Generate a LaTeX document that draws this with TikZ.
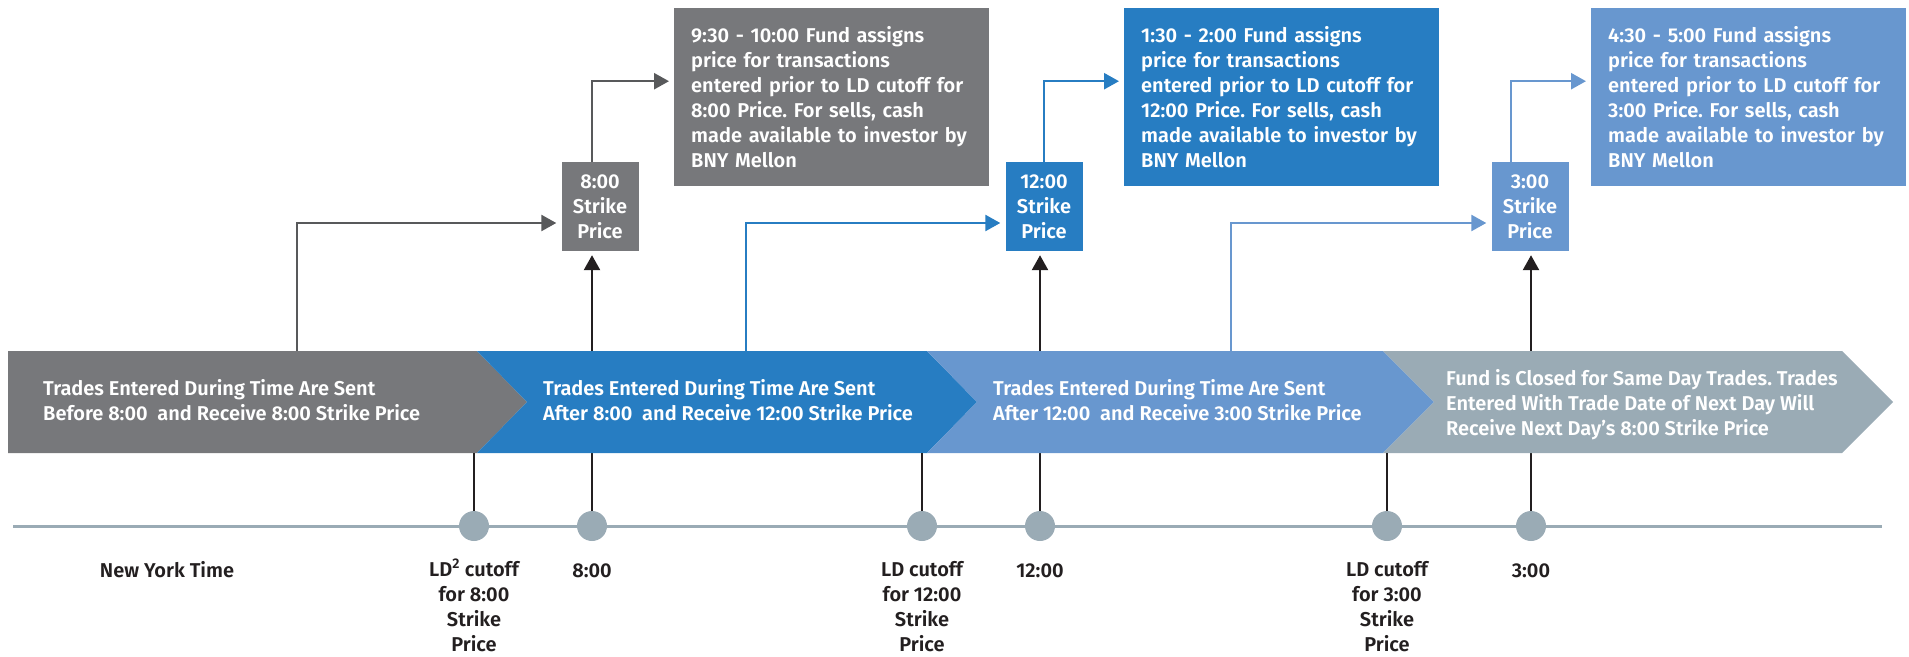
\documentclass[tikz,border=0pt]{standalone}
\usepackage{fontspec}
\setmainfont{Fira Sans}[UprightFont={* SemiBold}]
\usetikzlibrary{arrows.meta}
\definecolor{chgray}{HTML}{77787B}
\definecolor{chblue}{HTML}{277DC2}
\definecolor{chlight}{HTML}{6897CF}
\definecolor{chslate}{HTML}{9AABB5}
\definecolor{linegray}{HTML}{58595B}
\definecolor{inkblack}{HTML}{231F20}
\newcommand{\dfont}{\fontsize{20}{25}\selectfont\frenchspacing}
\tikzset{
  strikebox/.style={minimum width=77, minimum height=89, inner sep=0, text=white, align=center, font=\dfont},
  infobox/.style={anchor=north west, text width=281, minimum height=178, inner xsep=17, inner ysep=0, text=white, align=left, font=\dfont},
  bandtext/.style={anchor=west, inner sep=0, text=white, align=left, font=\dfont},
  tlabel/.style={anchor=base, inner sep=0, text=inkblack, align=center, font=\dfont},
  dot/.style={circle, fill=chslate, minimum size=30, inner sep=0},
  stem/.style={line width=2.5, inkblack},
  riser/.style={line width=2.5, ->, shorten >=5pt},
}
\begin{document}
\begin{tikzpicture}[x=1pt,y=-1pt,line join=miter,>={Triangle[length=15pt,width=16pt]}]
\useasboundingbox (0,0) rectangle (1909,656);

% strike price boxes
\node[strikebox,fill=chgray] (s8) at (600,206.5) {8:00\\Strike\\Price};
\node[strikebox,fill=chblue] (s12) at (1044,206.5) {12:00\\Strike\\Price};
\node[strikebox,fill=chlight] (s3) at (1530,206.5) {3:00\\Strike\\Price};

% pricing boxes
\node[infobox,fill=chgray] (i8) at (674,8) {9:30 - 10:00 Fund assigns\\price for transactions\\entered prior to LD cutoff for\\8:00 Price. For sells, cash\\made available to investor by\\BNY Mellon};
\node[infobox,fill=chblue] (i12) at (1124,8) {1:30 - 2:00 Fund assigns\\price for transactions\\entered prior to LD cutoff for\\12:00 Price. For sells, cash\\made available to investor by\\BNY Mellon};
\node[infobox,fill=chlight] (i3) at (1591,8) {4:30 - 5:00 Fund assigns\\price for transactions\\entered prior to LD cutoff for\\3:00 Price. For sells, cash\\made available to investor by\\BNY Mellon};

% time line
\coordinate (tl0) at (13,526);
\coordinate (tl1) at (1882,526);
\draw[line width=3, chslate] (tl0) -- (tl1);
\node[dot] (c1) at (474,526) {};
\node[dot] (c2) at (592,526) {};
\node[dot] (c3) at (922,526) {};
\node[dot] (c4) at (1040,526) {};
\node[dot] (c5) at (1387,526) {};
\node[dot] (c6) at (1531,526) {};

% strike times up to the boxes (behind the band)
\draw[stem,->,shorten >=4pt] (c2.north) -- (c2 |- s8.south);
\draw[stem,->,shorten >=4pt] (c4.north) -- (c4 |- s12.south);
\draw[stem,->,shorten >=4pt] (c6.north) -- (c6 |- s3.south);

% band
\fill[chgray] (8,351) -- (477,351) -- (527,402) -- (477,453) -- (8,453) -- cycle;
\fill[chblue] (477,351) -- (927,351) -- (977,402) -- (927,453) -- (477,453) -- (527,402) -- cycle;
\fill[chlight] (927,351) -- (1383,351) -- (1434,402) -- (1383,453) -- (927,453) -- (977,402) -- cycle;
\fill[chslate] (1383,351) -- (1842,351) -- (1893,402) -- (1842,453) -- (1383,453) -- (1434,402) -- cycle;
\coordinate (bandbot) at (0,453);

\node[bandtext] (b1) at (43,400) {Trades Entered During Time Are Sent\\Before 8:00~ and Receive 8:00 Strike Price};
\node[bandtext] (b2) at (543,400) {Trades Entered During Time Are Sent\\After 8:00~ and Receive 12:00 Strike Price};
\node[bandtext] (b3) at (993,400) {Trades Entered During Time Are Sent\\After 12:00~ and Receive 3:00 Strike Price};
\node[bandtext] (b4) at (1446,404.5) {Fund is Closed for Same Day Trades. Trades\\Entered With Trade Date of Next Day Will\\Receive Next Day’s 8:00 Strike Price};

% cutoffs
\draw[stem] (c1.north) -- (c1 |- bandbot);
\draw[stem] (c3.north) -- (c3 |- bandbot);
\draw[stem] (c5.north) -- (c5 |- bandbot);

% risers
\coordinate (r1) at (297,351);
\coordinate (r2) at (746,351);
\coordinate (r3) at (1231,351);
\draw[riser,linegray] (r1) |- ([yshift=-16.5pt]s8.west);
\draw[riser,chblue] (r2) |- ([yshift=-16.5pt]s12.west);
\draw[riser,chlight] (r3) |- ([yshift=-16.5pt]s3.west);
\draw[riser,linegray] (s8.north -| c2) |- ([yshift=16pt]i8.west);
\draw[riser,chblue] (s12.north) |- ([yshift=16pt]i12.west);
\draw[riser,chlight] ([xshift=-19pt]s3.north) |- ([yshift=16pt]i3.west);

% labels (base = last line)
\node[tlabel] (ny) at (167,577) {New York Time};
\node[tlabel] (l1) at (474,651) {LD\textsuperscript{2} cutoff\\for 8:00\\Strike\\Price};
\node[tlabel] (l2) at (592,577) {8:00};
\node[tlabel] (l3) at (922,651) {LD cutoff\\for 12:00\\Strike\\Price};
\node[tlabel] (l4) at (1040,577) {12:00};
\node[tlabel] (l5) at (1387,651) {LD cutoff\\for 3:00\\Strike\\Price};
\node[tlabel] (l6) at (1531,577) {3:00};
\end{tikzpicture}
\end{document}
